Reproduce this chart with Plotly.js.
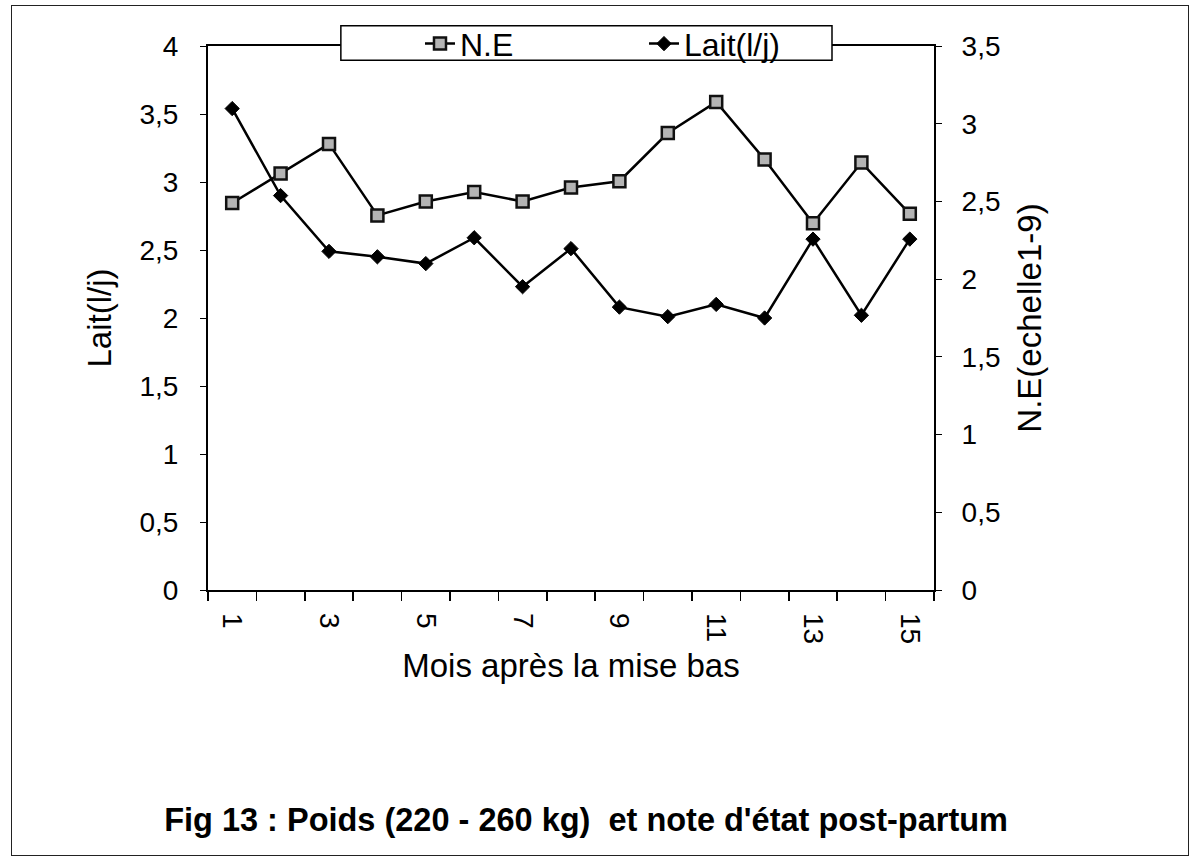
<!DOCTYPE html>
<html>
<head>
<meta charset="utf-8">
<script src="https://cdn.plot.ly/plotly-3.0.1.min.js"></script>
<style>
  html, body { margin: 0; padding: 0; background: #fff; }
  #chart { width: 1201px; height: 866px; }
  #frame { position: absolute; left: 11px; top: 5px; width: 1176px; height: 849px; border: 1.5px solid #222; pointer-events: none; }
</style>
</head>
<body>
<div id="chart"></div>
<div id="frame"></div>
<script>
// Months after calving (categories)
const months = [1, 2, 3, 4, 5, 6, 7, 8, 9, 10, 11, 12, 13, 14, 15];
// Body condition score N.E (right axis, scale 1-9)
const neValues = [2.49, 2.68, 2.87, 2.41, 2.50, 2.56, 2.50, 2.59, 2.63, 2.94, 3.14, 2.77, 2.36, 2.75, 2.42];
// Milk yield Lait (l/j) (left axis)
const laitValues = [3.54, 2.90, 2.49, 2.45, 2.40, 2.59, 2.23, 2.51, 2.08, 2.01, 2.10, 2.00, 2.58, 2.02, 2.58];
// Labelled months on the x axis
const xTickMonths = [1, 3, 5, 7, 9, 11, 13, 15];
const xTickLabels = ['1', '3', '5', '7', '9', '11', '13', '15'];

const boundaries = months.map(m => m - 0.5).concat([months[months.length - 1] + 0.5]);
const xRange = [months[0] - 0.5, months[months.length - 1] + 0.5];

const FONT = 'Liberation Sans, Arial, sans-serif';
const TICKSIZE = 28;
const TITLESIZE = 33;

const traces = [
  {
    x: months, y: neValues, name: 'N.E', type: 'scatter', mode: 'lines+markers',
    xaxis: 'x2', yaxis: 'y2',
    line: { color: '#000', width: 2.5 },
    marker: { symbol: 'square', size: 12, color: '#b4b4b4', line: { color: '#111', width: 2.5 } }
  },
  {
    x: months, y: laitValues, name: 'Lait(l/j)', type: 'scatter', mode: 'lines+markers',
    xaxis: 'x', yaxis: 'y',
    line: { color: '#000', width: 2.5 },
    marker: { symbol: 'diamond', size: 11, color: '#000', line: { color: '#000', width: 1 } }
  }
];

const layout = {
  width: 1201, height: 866,
  paper_bgcolor: '#fff', plot_bgcolor: '#fff',
  separators: ', ',
  font: { family: FONT, color: '#000', size: TICKSIZE },
  margin: { l: 208, r: 267, t: 46, b: 276 },
  showlegend: true,
  title: {
    text: "<b>Fig 13 : Poids (220 - 260 kg)  et note d'état post-partum</b>",
    font: { family: FONT, size: 32.5, color: '#000' },
    xref: 'container', yref: 'container', x: 0.488, y: 0.053, xanchor: 'center', yanchor: 'middle'
  },
  xaxis: {
    range: xRange, tickmode: 'array', tickvals: boundaries, showticklabels: false,
    ticks: 'outside', ticklen: 9, tickwidth: 1.5, tickcolor: '#000',
    showline: true, linecolor: '#000', linewidth: 2, mirror: true,
    showgrid: false, zeroline: false
  },
  xaxis2: {
    overlaying: 'x', anchor: 'y2', range: xRange,
    tickmode: 'array', tickvals: xTickMonths, ticktext: xTickLabels, tickangle: 90,
    ticks: '', ticklabelstandoff: 22, showline: false, showgrid: false, zeroline: false,
    tickfont: { size: TICKSIZE },
    title: { text: 'Mois après la mise bas', font: { size: TITLESIZE }, standoff: 10 }
  },
  yaxis: {
    range: [0, 4], tickmode: 'linear', tick0: 0, dtick: 0.5,
    ticks: 'outside', ticklen: 6, tickwidth: 1, tickcolor: '#000', ticklabelstandoff: 16,
    showline: true, linecolor: '#000', linewidth: 2,
    showgrid: false, zeroline: false, tickfont: { size: TICKSIZE },
    title: { text: 'Lait(l/j)', font: { size: TITLESIZE }, standoff: 18 }
  },
  yaxis2: {
    overlaying: 'y', side: 'right', anchor: 'x', range: [0, 3.5], tickmode: 'linear', tick0: 0, dtick: 0.5,
    ticks: 'outside', ticklen: 6, tickwidth: 1, tickcolor: '#000', ticklabelstandoff: 14,
    showline: true, linecolor: '#000', linewidth: 2,
    showgrid: false, zeroline: false, tickfont: { size: TICKSIZE },
    title: { text: 'N.E(echelle1-9)', font: { size: TITLESIZE }, standoff: 18 }
  },
  legend: {
    orientation: 'h', x: 0.292, y: 1.004, xanchor: 'left', yanchor: 'middle',
    bgcolor: 'rgba(0,0,0,0)', borderwidth: 0,
    font: { size: 32 }, entrywidth: 179, entrywidthmode: 'pixels', traceorder: 'normal'
  },
  shapes: [
    { type: 'rect', xref: 'paper', yref: 'paper', x0: 0.183, x1: 0.8595, y0: 0.974, y1: 1.037,
      fillcolor: '#fff', line: { color: '#000', width: 1.5 }, layer: 'above' }
  ]
};

Plotly.newPlot('chart', traces, layout, { displayModeBar: false, staticPlot: true });
</script>
</body>
</html>
